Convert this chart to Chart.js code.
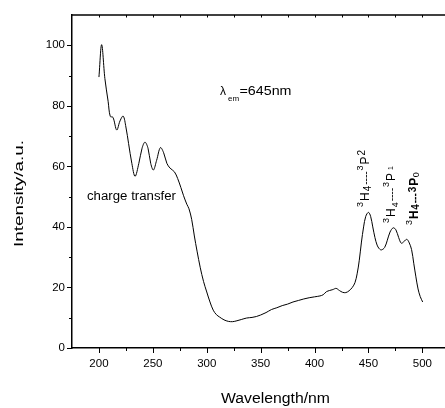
<!DOCTYPE html>
<html><head><meta charset="utf-8">
<script src="https://cdn.jsdelivr.net/npm/chart.js@4.4.0/dist/chart.umd.min.js"></script>
<style>html,body{margin:0;padding:0;background:#fff;overflow:hidden}</style>
</head><body>
<canvas id="c" width="445" height="408" style="width:445px;height:408px;display:block"></canvas>
<script>
// ---- data ----
const wavelengths = [200,202.5,205.5,208.5,210.5,213,216.5,219.5,222.5,225,227.5,230.5,233.5,237,240,242.7,245.5,248,250.5,253.5,257,260,263,266,270,273,276,278.5,281.5,283.5,286,288.5,291,294,297,300,303,306,309,312,316,320,324,328,332,337,342,346,350,355,360,365,370,375,380,385,390,395,400,405,408,411,414,417,420,423,426,429,432,435,437.5,439.5,441.5,443.5,445.5,447.5,450,452,454,456,458,460,462,465,467.5,470,473,475.5,478,480.5,483,485.5,487.5,490,492,494,496,498,500.3];
const intensities = [89.5,100.2,89,81.5,76.5,76.2,72,75,76.6,73,67.5,61,56.7,61,66,68,66,61,58.8,62,66.2,64.5,61,59.4,58.2,56,53,50.3,47.5,46,42.5,37,32,26.5,22,18.5,15.2,12.5,11,10.2,9.3,8.8,8.7,9.0,9.4,9.9,10.1,10.4,10.9,11.7,12.7,13.3,14.0,14.5,15.2,15.7,16.2,16.6,16.9,17.2,17.6,18.6,19.0,19.3,19.7,19.0,18.4,18.3,18.9,20.0,21.6,24.5,29,35,40,43.5,44.8,43.5,40,36.5,34,32.8,32.4,33.2,35.6,38.3,39.7,39,36.5,34.6,35.2,35.9,35,32.5,28,23.5,19.5,17,15.2];
const xTickValues = [200,250,300,350,400,450,500];
const xMinorValues = [225,275,325,375,425,475];
const topTickValues = [200,225,250,275,300,325,350,375,400,425,450,475,500];
const yTickValues = [0,20,40,60,80,100];
const yMinorValues = [10,30,50,70,90];
const xTitle = 'Wavelength/nm';
const yTitle = 'Intensity/a.u.';
const ctLabel = 'charge transfer';

const FONT = '"Liberation Sans", Arial, Helvetica, sans-serif';

function fitText(ctx, text, x, y, font, width, rotate) {
  ctx.save();
  ctx.font = font;
  const w = ctx.measureText(text).width;
  ctx.translate(x, y);
  if (rotate) ctx.rotate(-Math.PI / 2);
  ctx.scale(width / w, 1);
  ctx.textAlign = 'left';
  ctx.textBaseline = 'alphabetic';
  ctx.fillStyle = '#000';
  ctx.fillText(text, 0, 0);
  ctx.restore();
}
function rich(ctx, x, y, segs, rotate) {
  ctx.save();
  ctx.translate(x, y);
  if (rotate) ctx.rotate(-Math.PI / 2);
  ctx.textAlign = 'left';
  ctx.textBaseline = 'alphabetic';
  ctx.fillStyle = '#000';
  let cx = 0;
  for (const s of segs) {
    ctx.font = (s.b ? 'bold ' : '') + s.size + 'px ' + FONT;
    ctx.fillText(s.t, cx, s.dy || 0);
    cx += ctx.measureText(s.t).width + (s.gap || 0);
  }
  ctx.restore();
}

const decor = {
  id: 'decor',
  afterDraw(chart) {
    const ctx = chart.ctx;
    const xs = chart.scales.x, ys = chart.scales.y;
    const a = chart.chartArea;
    ctx.save();
    ctx.strokeStyle = '#000';
    ctx.fillStyle = '#000';
    ctx.lineWidth = 1.5;
    ctx.beginPath(); ctx.moveTo(a.left, a.top); ctx.lineTo(chart.width, a.top); ctx.stroke();
    ctx.lineWidth = 1;
    ctx.beginPath();
    for (const v of topTickValues) { const p = Math.round(xs.getPixelForValue(v)) + 0.5; ctx.moveTo(p, a.top); ctx.lineTo(p, a.top + 2.5); }
    for (const v of xTickValues) { const p = Math.round(xs.getPixelForValue(v)) + 0.5; ctx.moveTo(p, a.bottom); ctx.lineTo(p, a.bottom + 5); }
    for (const v of xMinorValues) { const p = Math.round(xs.getPixelForValue(v)) + 0.5; ctx.moveTo(p, a.bottom); ctx.lineTo(p, a.bottom + 3); }
    for (const v of yTickValues) { const p = Math.round(ys.getPixelForValue(v)) + 0.5; ctx.moveTo(a.left, p); ctx.lineTo(a.left - 5, p); }
    for (const v of yMinorValues) { const p = Math.round(ys.getPixelForValue(v)) + 0.5; ctx.moveTo(a.left, p); ctx.lineTo(a.left - 3, p); }
    ctx.stroke();
    ctx.restore();

    fitText(ctx, xTitle, 221, 403, '14px ' + FONT, 109, false);
    fitText(ctx, yTitle, 22.5, 247, '13px ' + FONT, 107, true);
    fitText(ctx, ctLabel, 87, 200, '12px ' + FONT, 89, false);
    rich(ctx, 220, 95, [{t:'λ', size:12}], false);
    rich(ctx, 228, 101, [{t:'em', size:8}], false);
    fitText(ctx, '=645nm', 239.5, 95, '13px ' + FONT, 52, false);

    rich(ctx, 369, 207, [
      {t:'3', size:9, dy:-6, gap:1}, {t:'H', size:12, gap:1}, {t:'4', size:10, dy:2, gap:1},
      {t:'----', size:10, gap:1}, {t:'3', size:9, dy:-6, gap:1}, {t:'P', size:12, gap:1}, {t:'2', size:10, dy:-4}
    ], true);
    rich(ctx, 395, 223, [
      {t:'3', size:9, dy:-6, gap:1}, {t:'H', size:12, gap:1}, {t:'4', size:9, dy:3, gap:1},
      {t:'----', size:10, gap:1}, {t:'3', size:9, dy:-6, gap:1}, {t:'P', size:12, gap:3}, {t:'1', size:7, dy:-2}
    ], true);
    rich(ctx, 418, 225, [
      {t:'3', size:9, dy:-6, gap:1}, {t:'H', size:12, b:true, gap:0.5}, {t:'4', size:10, b:true, dy:1, gap:1},
      {t:'---', size:10, b:true, gap:1}, {t:'3', size:10, b:true, dy:-2, gap:1}, {t:'P', size:12, b:true, gap:0.5}, {t:'0', size:9, dy:1}
    ], true);
  }
};

new Chart(document.getElementById('c'), {
  type: 'line',
  data: {
    datasets: [{
      data: wavelengths.map((w, i) => ({x: w, y: intensities[i]})),
      borderColor: '#000',
      borderWidth: 1,
      pointRadius: 0,
      tension: 0.35,
      fill: false
    }]
  },
  options: {
    responsive: false,
    animation: false,
    devicePixelRatio: 1,
    layout: {padding: {top: 15, right: 0, left: 0, bottom: 0}},
    plugins: {legend: {display: false}, tooltip: {enabled: false}},
    scales: {
      x: {
        type: 'linear', min: 175, max: 521,
        afterBuildTicks: s => { s.ticks = xTickValues.map(v => ({value: v})); },
        afterFit: s => { s.height = 60; },
        grid: {display: false, drawTicks: false},
        border: {display: true, color: '#000', width: 1.5},
        ticks: {color: '#000', font: {size: 11.5, family: FONT}, padding: 9, maxRotation: 0, autoSkip: false}
      },
      y: {
        type: 'linear', min: 0, max: 110,
        afterBuildTicks: s => { s.ticks = yTickValues.map(v => ({value: v})); },
        afterFit: s => { s.width = 72; },
        grid: {display: false, drawTicks: false},
        border: {display: true, color: '#000', width: 1.5},
        ticks: {color: '#000', font: {size: 11.5, family: FONT}, padding: 7}
      }
    }
  },
  plugins: [decor]
});
</script>
</body></html>
